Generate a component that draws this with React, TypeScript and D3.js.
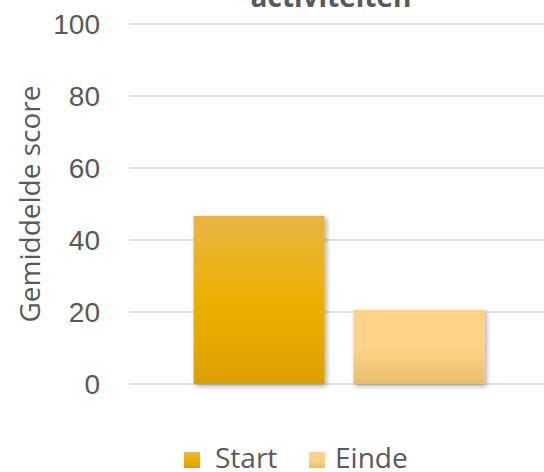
import React, { useEffect, useRef } from "react";
import * as d3 from "d3";

const categories = ["activiteiten"];
const seriesNames = ["Start", "Einde"];
const startValues = [46.7];
const eindeValues = [20.6];
const yTicks = [0, 20, 40, 60, 80, 100];

const App = () => {
  const svgRef = useRef<SVGSVGElement>(null);

  useEffect(() => {
    const width = 544;
    const height = 472;
    const svg = d3.select(svgRef.current);
    svg.selectAll("*").remove();
    svg.attr("width", width).attr("height", height);

    const margin = { left: 129, right: -5, top: 24, bottom: 88 };

    const defs = svg.append("defs");
    const grads = [
      { id: "g0", stops: [["0%", "#E8B545"], ["50%", "#EDB000"], ["100%", "#DBA000"]] },
      { id: "g1", stops: [["0%", "#FED38A"], ["50%", "#FED48A"], ["100%", "#E8BD6A"]] },
    ];
    grads.forEach(g => {
      const lg = defs.append("linearGradient").attr("id", g.id)
        .attr("x1", 0).attr("y1", 0).attr("x2", 0).attr("y2", 1);
      g.stops.forEach(([o, c]) => lg.append("stop").attr("offset", o).attr("stop-color", c));
    });
    const f = defs.append("filter").attr("id", "shadow")
      .attr("x", "-10%").attr("y", "-10%").attr("width", "130%").attr("height", "130%");
    f.append("feDropShadow").attr("dx", 2).attr("dy", 2).attr("stdDeviation", 2.5)
      .attr("flood-color", "#000").attr("flood-opacity", 0.35);

    const x0 = d3.scaleBand()
      .domain(categories)
      .range([margin.left, width - margin.right])
      .paddingInner(0)
      .paddingOuter(0.222);

    const x1 = d3.scaleBand()
      .domain(seriesNames)
      .range([0, x0.bandwidth()])
      .paddingInner(0.181);

    const y = d3.scaleLinear()
      .domain([0, 100])
      .range([height - margin.bottom, margin.top]);

    // gridlines
    svg.append("g")
      .selectAll("line")
      .data(yTicks)
      .enter()
      .append("line")
      .attr("x1", margin.left)
      .attr("x2", width)
      .attr("y1", d => y(d))
      .attr("y2", d => y(d))
      .attr("stroke", "#D9D9D9")
      .attr("stroke-width", 1.5);

    // tick labels
    svg.append("g")
      .selectAll("text")
      .data(yTicks)
      .enter()
      .append("text")
      .attr("x", 100)
      .attr("y", d => y(d))
      .attr("dy", "0.35em")
      .attr("text-anchor", "end")
      .attr("font-family", "'Liberation Sans', Arial, sans-serif")
      .attr("font-size", 28)
      .attr("fill", "#595959")
      .text(d => d);

    // bars
    const series = [startValues, eindeValues];
    categories.forEach((c, ci) => {
      seriesNames.forEach((s, si) => {
        const v = series[si][ci];
        svg.append("rect")
          .attr("x", (x0(c) as number) + (x1(s) as number))
          .attr("y", y(v))
          .attr("width", x1.bandwidth())
          .attr("height", y(0) - y(v))
          .attr("fill", `url(#g${si})`)
          .attr("filter", "url(#shadow)");
      });
    });

    // title (partly cut off)
    svg.append("text")
      .attr("x", 331)
      .attr("y", 7)
      .attr("text-anchor", "middle")
      .attr("font-family", "'Open Sans', sans-serif")
      .attr("font-weight", "bold")
      .attr("font-size", 28)
      .attr("fill", "#595959")
      .text(categories[0]);

    // y axis title
    svg.append("text")
      .attr("transform", `translate(40,${(y(0) + y(100)) / 2}) rotate(-90)`)
      .attr("text-anchor", "middle")
      .attr("font-family", "'Open Sans', sans-serif")
      .attr("font-size", 28)
      .attr("fill", "#595959")
      .text("Gemiddelde score");

    // legend
    const legendX = [184, 309];
    const legendTextX = [215, 335];
    seriesNames.forEach((s, i) => {
      svg.append("rect")
        .attr("x", legendX[i])
        .attr("y", 452)
        .attr("width", 16)
        .attr("height", 16)
        .attr("fill", `url(#g${i})`);
      svg.append("text")
        .attr("x", legendTextX[i])
        .attr("y", 468)
        .attr("font-family", "'Open Sans', sans-serif")
        .attr("font-size", 28)
        .attr("fill", "#595959")
        .text(s);
    });
  }, []);

  return <svg ref={svgRef} style={{ position: "absolute", left: 0, top: 0 }}></svg>;
};

export default App;
